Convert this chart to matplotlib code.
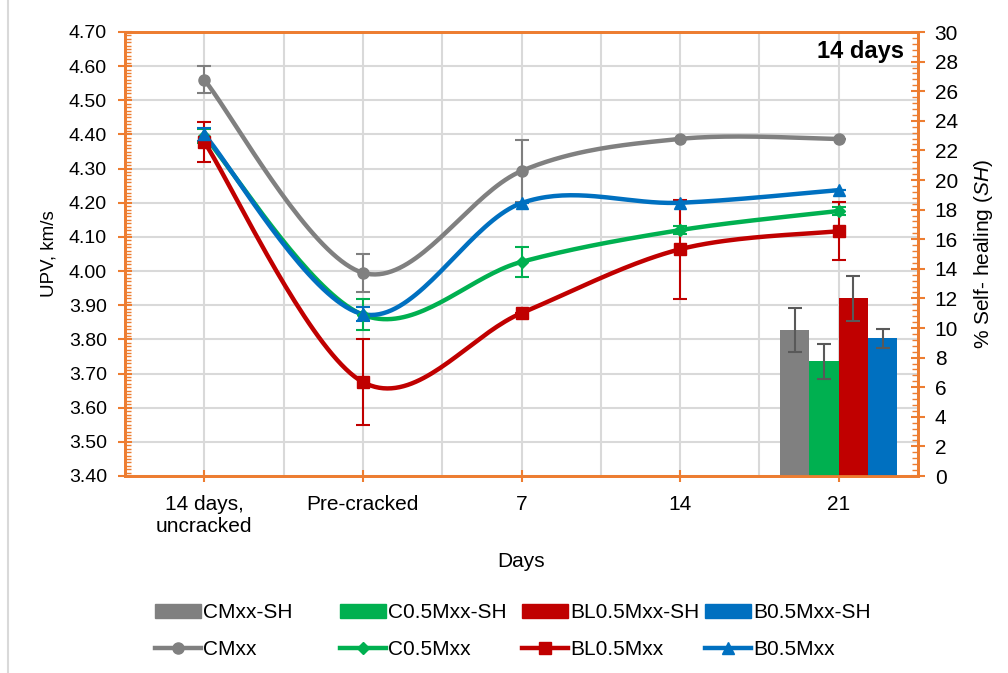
import matplotlib
matplotlib.use("Agg")
import matplotlib.pyplot as plt
import numpy as np
from matplotlib.lines import Line2D
from matplotlib.patches import Patch
from matplotlib.ticker import MultipleLocator, FormatStrFormatter

plt.rcParams['font.family'] = ['Liberation Sans', 'DejaVu Sans']
plt.rcParams['mathtext.fontset'] = 'custom'
plt.rcParams['mathtext.it'] = 'Liberation Sans:italic'
plt.rcParams['mathtext.rm'] = 'Liberation Sans'

# data
days = ['14 days,\nuncracked', 'Pre-cracked', '7', '14', '21']
names = ['CMxx', 'C0.5Mxx', 'BL0.5Mxx', 'B0.5Mxx']
colors = ['#808080', '#00B050', '#C00000', '#0070C0']
markers = ['o', 'D', 's', '^']

upv_cm = [4.56, 3.995, 4.293, 4.387, 4.387]
upv_c = [4.395, 3.872, 4.027, 4.12, 4.176]
upv_bl = [4.378, 3.675, 3.877, 4.064, 4.117]
upv_b = [4.40, 3.874, 4.199, 4.20, 4.237]

err_cm = [0.04, 0.055, 0.09, 0.0, 0.0]
err_c = [0.02, 0.045, 0.043, 0.012, 0.012]
err_bl = [0.058, 0.125, 0.0, 0.145, 0.085]
err_b = [0.02, 0.02, 0.0, 0.0, 0.0]

sh_vals = [9.85, 7.75, 12.0, 9.3]
sh_err = [1.5, 1.2, 1.5, 0.65]

orange = '#ED7D31'
grid_c = '#D9D9D9'


def smooth(xs, ys, n=40):
    # Catmull-Rom style smoothing like spreadsheet "smoothed line"
    p = np.column_stack([xs, ys]).astype(float)
    p = np.vstack([p[0], p, p[-1]])
    out = []
    for i in range(1, len(p) - 2):
        p0, p1, p2, p3 = p[i - 1], p[i], p[i + 1], p[i + 2]
        c1 = p1 + (p2 - p0) / 6.0
        c2 = p2 - (p3 - p1) / 6.0
        t = np.linspace(0, 1, n)[:, None]
        b = ((1 - t) ** 3) * p1 + 3 * ((1 - t) ** 2) * t * c1 + 3 * (1 - t) * t ** 2 * c2 + t ** 3 * p2
        out.append(b if i == 1 else b[1:])
    out = np.vstack(out)
    return out[:, 0], out[:, 1]


fig = plt.figure(figsize=(10.08, 6.73), dpi=100)
ax = fig.add_axes([125 / 1008, 1 - 476 / 673, (918 - 125) / 1008, (476 - 32) / 673])
ax2 = ax.twinx()

x = np.arange(len(days))
series = [upv_cm, upv_c, upv_bl, upv_b]
errs = [err_cm, err_c, err_bl, err_b]
for vals, e, col, mk in zip(series, errs, colors, markers):
    sx, sy = smooth(x, vals)
    ax.plot(sx, sy, color=col, lw=3.2, zorder=3, solid_capstyle='round')
    ms = 8 if mk != 'D' else 6
    ax.plot(x, vals, ls='none', marker=mk, color=col, ms=ms, zorder=4)
    ecol = '#7F7F7F' if col == '#808080' else col
    ax.errorbar(x, vals, yerr=e, fmt='none', ecolor=ecol, elinewidth=1.5,
                capsize=5, capthick=1.5, zorder=3)

# self-healing bars at day 21
bw = 0.185
offs = (np.arange(4) - 1.5) * bw
ax2.bar(4 + offs, sh_vals, width=bw, color=colors, zorder=2)
ax2.errorbar(4 + offs, sh_vals, yerr=sh_err, fmt='none', ecolor='#595959',
             elinewidth=1.5, capsize=5, capthick=1.5, zorder=3)

ax.set_xlim(-0.5, 4.5)
ax.set_ylim(3.40, 4.70)
ax2.set_ylim(0, 30)

ax.yaxis.set_major_locator(MultipleLocator(0.1))
ax.yaxis.set_minor_locator(MultipleLocator(0.01))
ax.yaxis.set_major_formatter(FormatStrFormatter('%.2f'))
ax2.yaxis.set_major_locator(MultipleLocator(2))
ax2.yaxis.set_minor_locator(MultipleLocator(0.4))

ax.set_xticks(x)
ax.set_xticklabels(days, fontsize=15)
ax.set_xticks(np.arange(-0.5, 4.6, 0.5), minor=True)
ax.grid(True, which='major', axis='y', color=grid_c, lw=1.5)
ax.grid(True, which='both', axis='x', color=grid_c, lw=1.5)
ax.tick_params(axis='x', which='minor', length=0)
ax.set_axisbelow(True)

for a in (ax, ax2):
    for s in a.spines.values():
        s.set_color(orange)
        s.set_linewidth(2)
ax.tick_params(axis='x', which='major', direction='inout', length=8, width=1.5,
               color=orange, labelsize=15, pad=10)
ax.tick_params(axis='y', which='major', direction='inout', length=10, width=1.5,
               color=orange, labelsize=14, pad=8)
ax.tick_params(axis='y', which='minor', direction='in', length=4, width=1.0, color=orange)
ax2.tick_params(axis='y', which='major', direction='inout', length=10, width=1.5,
                color=orange, labelsize=15, pad=7)
ax2.tick_params(axis='y', which='minor', direction='in', length=4, width=1.0, color=orange)

ax.set_ylabel('UPV, km/s', fontsize=13.5, labelpad=8)
ax.set_xlabel('Days', fontsize=15, labelpad=11)
ax2.set_ylabel('% Self- healing ($\\it{SH}$)', fontsize=15, labelpad=10)

ax.text(0.982, 0.982, '14 days', transform=ax.transAxes, ha='right', va='top',
        fontsize=17, fontweight='bold')

# legend, one column at a time
col_x = [155, 340, 522, 705]
sh_labels = [n + '-SH' for n in names]
for i in range(4):
    ms = 8 if markers[i] != 'D' else 6
    hs = [Patch(color=colors[i]),
          Line2D([], [], color=colors[i], lw=3.2, marker=markers[i], ms=ms)]
    fig.legend(hs, [sh_labels[i], names[i]], loc='center left',
               bbox_to_anchor=(col_x[i] / 1008, 1 - 631 / 673), frameon=False,
               fontsize=15, handlelength=2.2, handletextpad=0.1, borderpad=0,
               borderaxespad=0, labelspacing=0.85)

# chart border on the left
fig.add_artist(Line2D([8 / 1008, 8 / 1008], [0, 1], color='#D9D9D9', lw=1.5))

fig.savefig('out.png', dpi=100)
plt.close(fig)
